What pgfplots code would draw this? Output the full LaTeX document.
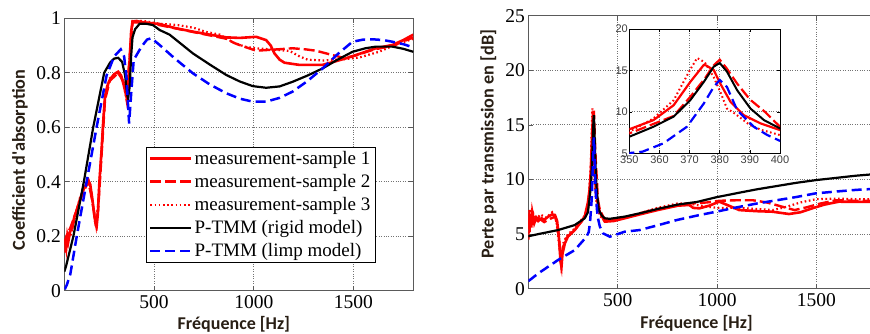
\documentclass[border=0pt]{standalone}
\usepackage{pgfplots}
\usepackage{pgfplotstable}
\pgfplotsset{compat=1.18}
\usepackage{fontspec}
\setmainfont{Liberation Serif}
\newfontfamily\calibri{Carlito}
\newfontfamily\arial{Liberation Sans}

% ---------- absorption data ----------
\pgfplotstableread{
f a
50 0.14
55 0.19
60 0.16
65 0.20
70 0.18
80 0.22
90 0.23
100 0.27
110 0.29
128 0.333
145 0.37
160 0.39
170 0.406
180 0.39
190 0.34
200 0.28
208 0.24
212 0.235
218 0.28
226 0.40
237 0.517
245 0.62
254 0.712
265 0.75
278 0.774
300 0.795
320 0.804
335 0.79
348 0.755
362 0.712
370 0.74
378 0.85
385 0.95
392 0.988
410 0.99
450 0.985
528 0.979
600 0.965
695 0.951
780 0.94
862 0.93
930 0.928
1012 0.932
1062 0.92
1085 0.90
1104 0.871
1130 0.848
1154 0.837
1228 0.829
1345 0.829
1400 0.84
1462 0.853
1540 0.872
1612 0.89
1695 0.902
1750 0.92
1800 0.94
}\absA
\pgfplotstableread{
f a
50 0.17
60 0.20
80 0.23
100 0.27
128 0.33
160 0.385
172 0.40
190 0.33
210 0.24
220 0.30
237 0.50
254 0.70
278 0.77
320 0.80
345 0.77
362 0.72
378 0.86
392 0.985
450 0.985
528 0.975
695 0.95
862 0.925
900 0.91
928 0.902
1012 0.881
1100 0.885
1195 0.89
1260 0.886
1312 0.881
1395 0.865
1450 0.855
1495 0.86
1600 0.885
1700 0.90
1800 0.93
}\absB
\pgfplotstableread{
f a
50 0.19
60 0.17
70 0.21
80 0.20
100 0.26
128 0.34
165 0.40
185 0.36
205 0.25
218 0.30
237 0.52
254 0.71
278 0.78
320 0.80
345 0.77
362 0.70
378 0.86
392 0.99
450 0.99
528 0.98
620 0.975
700 0.965
760 0.95
830 0.94
900 0.91
960 0.895
1012 0.89
1100 0.885
1180 0.88
1230 0.86
1270 0.848
1350 0.845
1400 0.848
1460 0.85
1528 0.856
1628 0.877
1700 0.90
1800 0.925
}\absC
\pgfplotstableread{
f a
50 0.07
58 0.088
95 0.198
120 0.293
148 0.40
195 0.60
250 0.80
280 0.838
300 0.852
320 0.855
340 0.84
355 0.79
365 0.72
370 0.706
378 0.75
385 0.86
392 0.93
405 0.96
428 0.98
460 0.98
495 0.975
528 0.957
578 0.94
695 0.871
780 0.83
862 0.792
930 0.768
995 0.751
1062 0.745
1130 0.75
1195 0.767
1270 0.79
1345 0.816
1420 0.848
1495 0.877
1560 0.89
1612 0.896
1695 0.896
1750 0.888
1800 0.877
}\absR
\pgfplotstableread{
f a
52 0.005
62 0.02
80 0.06
112 0.198
162 0.40
212 0.60
262 0.79
300 0.86
333 0.886
350 0.86
362 0.78
375 0.614
385 0.72
398 0.847
437 0.896
465 0.922
487 0.927
528 0.902
600 0.855
695 0.798
780 0.757
862 0.725
930 0.705
995 0.694
1062 0.694
1130 0.708
1195 0.731
1270 0.77
1345 0.816
1420 0.868
1495 0.914
1550 0.922
1595 0.923
1650 0.92
1695 0.914
1750 0.905
1800 0.893
}\absL

% ---------- transmission loss data ----------
\pgfplotstableread{
f t
50 4.5
52 7.2
56 5.2
60 6.8
65 5.6
70 7.0
80 6.0
90 6.5
100 6.2
117 6.45
130 6.3
150 6.6
170 6.8
184 6.75
195 6.2
205 4.5
212 2.5
217 2.0
222 3.2
234 4.15
250 4.8
284 5.37
334 6.6
350 7.9
358 9.0
364.7 10.8
370.2 13.6
374.7 15.66
375.5 15.6
378 15.05
380.2 13.4
383.6 11.2
388 9.6
393.6 8.6
400 7.8
410 7.0
435 6.14
480 6.2
535 6.45
610 6.8
700 7.2
800 7.6
860 7.67
880 7.4
911 7.36
960 7.6
1011 7.97
1060 7.6
1112 7.2
1200 7.1
1279 7.05
1362 6.84
1420 7.0
1479 7.36
1540 7.7
1613 7.97
1700 7.95
1800 7.95
}\tlA
\pgfplotstableread{
f t
50 5.5
55 6.9
60 5.8
70 6.6
85 6.2
100 6.5
130 6.1
160 6.4
185 6.6
200 5.5
210 3.5
215 2.4
225 3.8
240 4.6
284 5.4
334 6.5
350 7.4
364.7 9.5
370.2 11.8
375 14.0
378 15.6
380 16.3
382.4 15.2
385.8 13.4
390 11.5
395 10.0
400 8.2
410 7.2
435 6.3
535 6.5
610 6.9
700 7.3
800 7.6
860 7.8
950 7.9
1011 8.05
1100 8.1
1180 8.1
1250 7.9
1320 7.55
1390 7.2
1450 7.45
1520 7.8
1600 8.1
1700 8.05
1800 8.05
}\tlB
\pgfplotstableread{
f t
50 6.0
54 5.0
58 7.3
65 6.2
75 6.9
90 6.3
110 6.8
140 6.5
170 7.0
190 6.4
205 4.0
215 2.8
228 4.3
250 5.0
284 5.5
334 6.7
350 7.6
358 9.2
364.7 11.4
370.2 15.1
372.5 16.5
375 16.0
378 14.2
380.2 12.4
382.4 10.4
385 9.8
390 8.4
394 7.8
400 7.2
410 6.7
435 6.2
535 6.5
610 6.9
700 7.4
800 7.8
860 7.8
950 7.5
1011 7.4
1100 7.4
1200 7.3
1280 7.2
1350 7.5
1420 7.9
1500 8.2
1600 8.25
1700 8.2
1800 8.2
}\tlC
\pgfplotstableread{
f t
50 4.8
100 5.0
200 5.37
284 5.83
334 6.45
350 7.0
358 8.2
364.7 9.42
370.2 11.4
374.7 13.6
378 15.45
380 15.9
382.4 14.85
385.8 12.6
390.2 10.4
394.7 9.0
400 8.0
405 7.2
420 6.7
435 6.45
460 6.4
535 6.6
610 6.9
700 7.3
800 7.7
900 7.95
995 8.37
1100 8.75
1200 9.1
1300 9.4
1400 9.7
1500 9.95
1600 10.15
1700 10.35
1800 10.5
}\tlR
\pgfplotstableread{
f t
50 0.7
58 0.8
100 1.4
200 2.63
284 3.54
343 4.76
354.4 5.2
361.3 6.2
369.1 8.2
374.7 11.0
378 13.0
380 13.85
382.4 13.0
385.8 10.2
391.3 8.2
395.8 7.2
400 6.5
410 5.7
426 5.07
460 4.76
535 5.22
610 5.37
700 5.8
800 6.3
900 6.7
995 7.05
1100 7.45
1200 7.8
1300 8.1
1400 8.4
1496 8.73
1600 8.9
1700 9.05
1800 9.15
}\tlL

\definecolor{axgray}{RGB}{90,90,90}
\definecolor{lblcol}{RGB}{40,30,20}

\pgfplotsset{
  matlab/.style={
    scale only axis,
    axis line style={axgray, line width=0.8pt},
    tick style={axgray, line width=0.8pt},
    major tick length=5pt,
    tick align=inside,
    grid=major,
    grid style={dotted, black!55, line width=0.9pt},
    ticklabel style={font=\fontsize{19.5}{19.5}\selectfont},
    /pgf/number format/assume math mode=true,
    xtick={500,1000,1500},
    xticklabels={500,1000,1500},
    xtick pos=both, ytick pos=both,
    xmin=50, xmax=1800,
    x tick label style={yshift=-1pt},
  },
  s1/.style={red, line width=2.6pt},
  s2/.style={red, line width=2.4pt, dash pattern=on 11pt off 4pt},
  s3/.style={red, line width=2.2pt, dash pattern=on 1.6pt off 2.6pt},
  rig/.style={black, line width=2.2pt},
  limp/.style={blue, line width=2.5pt, dash pattern=on 10pt off 5pt},
}

\begin{document}
\begin{tikzpicture}
% ---------- left: absorption ----------
\begin{axis}[matlab,
  at={(64.3pt,42.3pt)}, anchor=south west,
  width=349pt, height=272.4pt,
  ymin=0, ymax=1,
  ytick={0,0.2,0.4,0.6,0.8,1},
  yticklabels={0,0.2,0.4,0.6,0.8,1},
  xlabel={Fréquence [Hz]},
  ylabel={Coefficient d'absorption},
  every axis x label/.style={at={(axis description cs:0.486,-0.095)}, anchor=north, inner sep=0pt,
     font=\calibri\bfseries\fontsize{18}{18}\selectfont, text=lblcol},
  every axis y label/.style={at={(axis description cs:-0.127,0.48)}, anchor=center, rotate=90, inner sep=0pt,
     font=\calibri\bfseries\fontsize{18.2}{18.2}\selectfont, text=lblcol},
  legend style={at={(0.233,0.529)}, anchor=north west, draw=black, line width=0.8pt, fill=white,
     font=\fontsize{19}{19}\selectfont, inner xsep=3pt, inner ysep=2pt, row sep=4.5pt},
  legend cell align=left,
  legend image code/.code={\draw[#1] (0pt,0pt) -- (41pt,0pt);},
]
\addplot[s1] table[x=f,y=a]{\absA};
\addlegendentry{measurement-sample 1}
\addplot[s2] table[x=f,y=a]{\absB};
\addlegendentry{measurement-sample 2}
\addplot[s3] table[x=f,y=a]{\absC};
\addlegendentry{measurement-sample 3}
\addplot[rig] table[x=f,y=a]{\absR};
\addlegendentry{P-TMM (rigid model)}
\addplot[limp] table[x=f,y=a]{\absL};
\addlegendentry{P-TMM (limp model)}
\end{axis}

% ---------- right: transmission loss ----------
\begin{axis}[matlab,
  at={(528.3pt,44.3pt)}, anchor=south west,
  width=347.7pt, height=273pt,
  ymin=0, ymax=25,
  ytick={0,5,10,15,20,25},
  xlabel={Fréquence [Hz]},
  ylabel={Perte par transmission en [dB]},
  every axis x label/.style={at={(axis description cs:0.484,-0.097)}, anchor=north, inner sep=0pt,
     font=\calibri\bfseries\fontsize{18}{18}\selectfont, text=lblcol},
  every axis y label/.style={at={(axis description cs:-0.115,0.53)}, anchor=center, rotate=90, inner sep=0pt,
     font=\calibri\bfseries\fontsize{18.2}{18.2}\selectfont, text=lblcol},
]
\addplot[s1] table[x=f,y=t]{\tlA};
\addplot[s2] table[x=f,y=t]{\tlB};
\addplot[s3] table[x=f,y=t]{\tlC};
\addplot[rig] table[x=f,y=t]{\tlR};
\addplot[limp] table[x=f,y=t]{\tlL};
\end{axis}

% ---------- inset ----------
\begin{axis}[
  scale only axis,
  at={(629.3pt,179.7pt)}, anchor=south west,
  width=150.7pt, height=124.3pt,
  xmin=350, xmax=400, ymin=5, ymax=20,
  xtick={350,360,...,400}, ytick={5,10,15,20},
  axis background/.style={fill=white},
  axis line style={black, line width=0.8pt},
  tick style={black, line width=0.6pt},
  major tick length=3pt,
  grid=major,
  grid style={dotted, black!55, line width=0.9pt},
  ticklabel style={font=\arial\fontsize{11}{11}\selectfont, text=black!75},
  /pgf/number format/assume math mode=true,
  xticklabel style={yshift=1pt},
  yticklabel style={xshift=2pt},
]
\addplot[s1, line width=2.2pt] table[x=f,y=t]{\tlA};
\addplot[s2, line width=2.2pt] table[x=f,y=t]{\tlB};
\addplot[s3, line width=2pt] table[x=f,y=t]{\tlC};
\addplot[rig, line width=2pt] table[x=f,y=t]{\tlR};
\addplot[limp, line width=2.2pt] table[x=f,y=t]{\tlL};
\end{axis}

\pgfresetboundingbox
\useasboundingbox (0pt,0pt) rectangle (870pt,333pt);
\end{tikzpicture}
\end{document}
